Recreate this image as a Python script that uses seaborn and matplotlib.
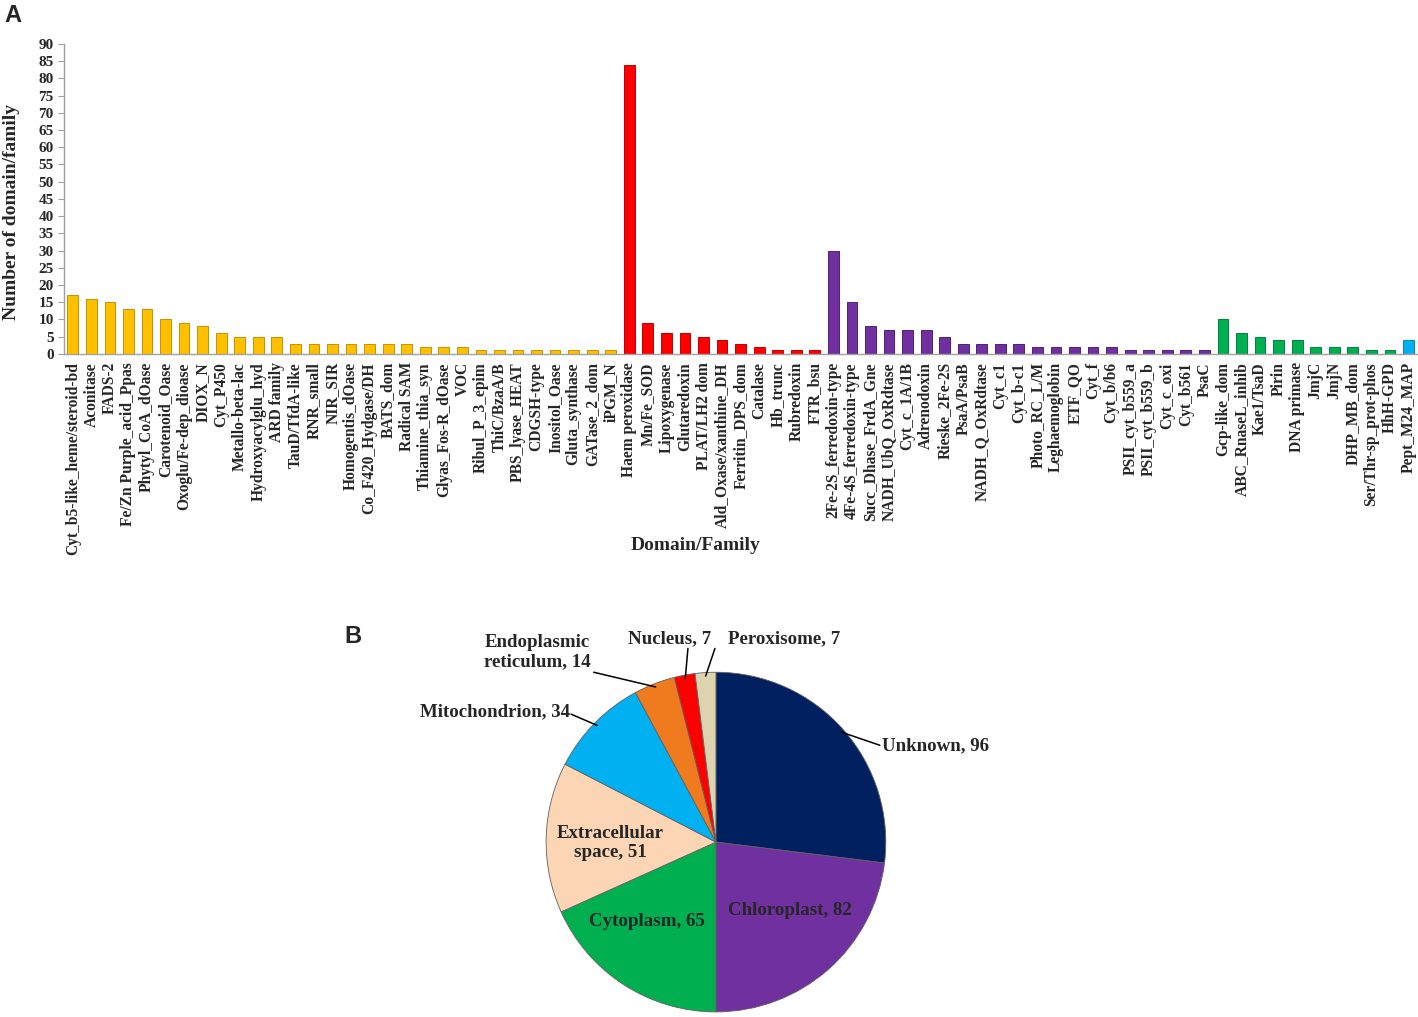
import numpy as np
import pandas as pd
import matplotlib
matplotlib.use('Agg')
import matplotlib.pyplot as plt
import seaborn as sns

# ---- panel A data ----
yellow_names = ['Cyt_b5-like_heme/steroid-bd', 'Aconitase', 'FADS-2', 'Fe/Zn Purple_acid_Ppas',
                'Phytyl_CoA_dOase', 'Carotenoid_Oase', 'Oxoglu/Fe-dep_dioase', 'DIOX_N', 'Cyt_P450',
                'Metallo-beta-lac', 'Hydroxyacylglu_hyd', 'ARD family', 'TauD/TfdA-like', 'RNR_small',
                'NIR_SIR', 'Homogentis_dOase', 'Co_F420_Hydgase/DH', 'BATS_dom', 'Radical SAM',
                'Thiamine_thia_syn', 'Glyas_Fos-R_dOase', 'VOC', 'Ribul_P_3_epim', 'ThiC/BzaA/B',
                'PBS_lyase_HEAT', 'CDGSH-type', 'Inositol_Oase', 'Gluta_synthase', 'GATase_2_dom', 'iPGM_N']
yellow_vals = [17, 16, 15, 13, 13, 10, 9, 8, 6, 5, 5, 5, 3, 3, 3, 3, 3, 3, 3, 2, 2, 2, 1, 1, 1, 1, 1, 1, 1, 1]

red_names = ['Haem peroxidase', 'Mn/Fe_SOD', 'Lipoxygenase', 'Glutaredoxin', 'PLAT/LH2 dom',
             'Ald_Oxase/xanthine_DH', 'Ferritin_DPS_dom', 'Catalase', 'Hb_trunc', 'Rubredoxin', 'FTR_bsu']
red_vals = [84, 9, 6, 6, 5, 4, 3, 2, 1, 1, 1]

purple_names = ['2Fe-2S_ferredoxin-type', '4Fe-4S_ferredoxin-type', 'Succ_Dhase_FrdA_Gne',
                'NADH_UbQ_OxRdtase', 'Cyt_c_1A/1B', 'Adrenodoxin', 'Rieske_2Fe-2S', 'PsaA/PsaB',
                'NADH_Q_OxRdtase', 'Cyt_c1', 'Cyt_b-c1', 'Photo_RC_L/M', 'Leghaemoglobin', 'ETF_QO',
                'Cyt_f', 'Cyt_b/b6', 'PSII_cyt_b559_a', 'PSII_cyt_b559_b', 'Cyt_c_oxi', 'Cyt_b561', 'PsaC']
purple_vals = [30, 15, 8, 7, 7, 7, 5, 3, 3, 3, 3, 2, 2, 2, 2, 2, 1, 1, 1, 1, 1]

green_names = ['Gcp-like_dom', 'ABC_RnaseL_inhib', 'Kae1/TsaD', 'Pirin', 'DNA primase', 'JmjC',
               'JmjN', 'DHP_MB_dom', 'Ser/Thr-sp_prot-phos', 'HhH-GPD']
green_vals = [10, 6, 5, 4, 4, 2, 2, 2, 1, 1]

blue_names = ['Pept_M24_MAP']
blue_vals = [4]

group_colors = {'yellow': '#FFC000', 'red': '#FF0000', 'purple': '#7030A0',
                'green': '#00B050', 'blue': '#00B0F0'}
edge_colors = {'yellow': '#C89000', 'red': '#C00000', 'purple': '#50207A',
               'green': '#008040', 'blue': '#0088C0'}

# ---- panel B data ----
pie_labels = ['Unknown', 'Chloroplast', 'Cytoplasm', 'Extracellular\nspace', 'Mitochondrion',
              'Endoplasmic\nreticulum', 'Nucleus', 'Peroxisome']
pie_vals = [96, 82, 65, 51, 34, 14, 7, 7]
pie_colors = ['#002060', '#7030A0', '#00B050', '#FCD5B4', '#00B0F0', '#F07A1E', '#FF0000', '#DDD3AE']

sns.set_style('white')
plt.rcParams['font.family'] = ['Liberation Serif', 'DejaVu Serif']
plt.rcParams['font.weight'] = 'bold'

rows = []
for grp, names, vals in [('yellow', yellow_names, yellow_vals), ('red', red_names, red_vals),
                         ('purple', purple_names, purple_vals), ('green', green_names, green_vals),
                         ('blue', blue_names, blue_vals)]:
    for n, v in zip(names, vals):
        rows.append({'domain': n, 'count': v, 'group': grp})
df = pd.DataFrame(rows)

fig = plt.figure(figsize=(14.18, 10.17), dpi=100)

# ---- bar chart ----
ax = fig.add_axes([0.0448, 0.652, 0.955, 0.3048])
sns.barplot(data=df, x='domain', y='count', hue='group', palette=group_colors,
            order=list(df['domain']), hue_order=list(group_colors), dodge=False,
            width=0.58, saturation=1, legend=False, ax=ax, edgecolor='none')
# darker rim to mimic the shaded columns
face_to_edge = {matplotlib.colors.to_hex(group_colors[g]): edge_colors[g] for g in group_colors}
for p in ax.patches:
    fc = matplotlib.colors.to_hex(p.get_facecolor())
    if fc in face_to_edge:
        p.set_edgecolor(face_to_edge[fc])
        p.set_linewidth(0.7)

n = len(df)
ax.set_xlim(-0.5, n - 0.5)
ax.set_ylim(0, 90)
ax.set_yticks(range(0, 91, 5))
ax.set_yticklabels([str(v) for v in range(0, 91, 5)], fontsize=11, fontweight='bold')
ax.set_xticks(range(n))
ax.set_xticklabels(df['domain'], rotation=90, fontsize=11.2, fontweight='bold')
ax.set_xticks(np.arange(n + 1) - 0.5, minor=True)
ax.tick_params(axis='x', which='major', length=0, pad=6)
ax.tick_params(axis='x', which='minor', length=5, color='#A0A0A0', width=0.8)
ax.tick_params(axis='y', length=4, color='#A0A0A0', width=0.8, pad=3, direction='out', left=True)
for s in ['top', 'right']:
    ax.spines[s].set_visible(False)
for s in ['left', 'bottom']:
    ax.spines[s].set_color('#A0A0A0')
    ax.spines[s].set_linewidth(1)
ax.set_xlabel('Domain/Family', fontsize=14, fontweight='bold')
ax.xaxis.set_label_coords(0.467, -0.59)
ax.set_ylabel('Number of domain/family', fontsize=14, fontweight='bold')
ax.yaxis.set_label_coords(-0.032, 0.458)

fig.text(0.003, 0.985, 'A', fontsize=17, fontweight='bold', family='Liberation Sans', va='center')
fig.text(0.243, 0.374, 'B', fontsize=17, fontweight='bold', family='Liberation Sans', va='center')

# ---- pie chart ----
pax = fig.add_axes([0.385, 0.005, 0.2398, 0.334])
wedges, _ = pax.pie(pie_vals, colors=pie_colors, startangle=90, counterclock=False, radius=1,
                    wedgeprops=dict(edgecolor='#606060', linewidth=0.6))
pax.set_xlim(-1, 1)
pax.set_ylim(-1, 1)
pax.set_aspect('equal')
pax.axis('off')

lab = [f'{l}, {v}' for l, v in zip(pie_labels, pie_vals)]
fs = 13.6
# inside labels
pax.text(0.435, -0.405, lab[1], ha='center', va='center', fontsize=fs, fontweight='bold')
pax.text(-0.405, -0.465, lab[2], ha='center', va='center', fontsize=fs, fontweight='bold')
pax.text(-0.62, -0.006, lab[3], ha='center', va='center', fontsize=fs, fontweight='bold',
         linespacing=1.2)

# outside labels with leader lines: (index, line end, text pos, ha)
outside = [(0, (0.965, 0.57), (0.975, 0.57), 'left'),
           (4, (-0.853, 0.753), (-1.3, 0.765), 'center'),
           (5, (-0.72, 1.0), (-1.05, 1.12), 'center'),
           (6, (-0.165, 1.14), (-0.27, 1.195), 'center'),
           (7, (-0.006, 1.14), (0.07, 1.195), 'left')]
for i, end, tpos, ha in outside:
    w = wedges[i]
    mid = np.deg2rad((w.theta1 + w.theta2) / 2)
    p0 = (0.98 * np.cos(mid), 0.98 * np.sin(mid))
    pax.plot([p0[0], end[0]], [p0[1], end[1]], color='black', lw=1.1, clip_on=False)
    pax.text(tpos[0], tpos[1], lab[i], ha=ha, va='center', fontsize=fs, fontweight='bold',
             linespacing=1.2, clip_on=False)

fig.savefig('out.png', dpi=100)
